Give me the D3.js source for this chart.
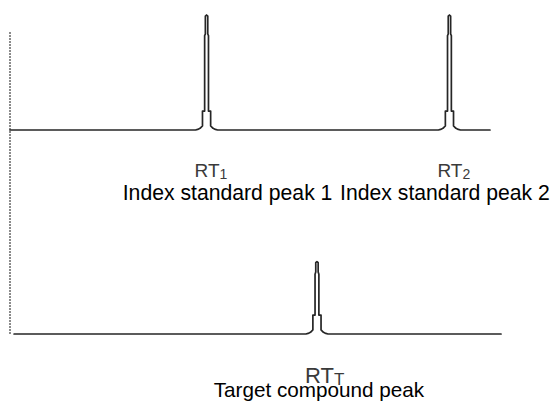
<!DOCTYPE html>
<html>
<head>
<meta charset="utf-8">
<script src="https://cdn.jsdelivr.net/npm/d3@7"></script>
<style>
  html, body { margin: 0; padding: 0; background: #fff; }
  svg { display: block; }
  text { font-family: "Liberation Sans", Arial, sans-serif; }
</style>
</head>
<body>
<svg id="chart" width="550" height="401"></svg>
<script>
// Retention time (min) and detector response (% of tallest peak) for each run.
// Run 1: two index standards.
const run1Time = [0,
  7.73, 7.82, 7.92, 8.02, 8.02, 8.11, 8.11, 8.14, 8.14, 8.19, 8.24, 8.24, 8.27, 8.27, 8.36, 8.36, 8.46, 8.56, 8.65,
  17.85, 17.94, 18.04, 18.14, 18.14, 18.23, 18.23, 18.26, 18.26, 18.31, 18.36, 18.36, 18.39, 18.39, 18.48, 18.48, 18.58, 18.68, 18.77,
  20];
const run1Signal = [0,
  0, 0.5, 1.5, 3.5, 16.5, 16.5, 82, 83.5, 99, 100, 99, 83.5, 82, 16.5, 16.5, 3.5, 1.5, 0.5, 0,
  0, 0.5, 1.5, 3.5, 16.5, 16.5, 82, 83.5, 99, 100, 99, 83.5, 82, 16.5, 16.5, 3.5, 1.5, 0.5, 0,
  0];
// Run 2: target compound.
const run2Time = [0.17,
  12.33, 12.42, 12.52, 12.62, 12.62, 12.71, 12.71, 12.74, 12.74, 12.79, 12.84, 12.84, 12.87, 12.87, 12.96, 12.96, 13.06, 13.16, 13.25,
  20.46];
const run2Signal = [0,
  0, 0.5, 1.5, 3.5, 16.5, 16.5, 52, 54, 62, 63, 62, 54, 52, 16.5, 16.5, 3.5, 1.5, 0.5, 0,
  0];

// Peak annotations
const peakTimes = [8.19, 18.31, 12.79];
const peakRun = [1, 1, 2];
const rtSubscripts = ["1", "2", "T"];
const peakNames = ["Index standard peak 1", "Index standard peak 2", "Target compound peak"];

// Dotted injection marker: time and top (response units of run 1)
const markerTime = 0;
const markerTop = 85;

const svg = d3.select("#chart");

const x = d3.scaleLinear().domain([0, 20]).range([10, 490]);
const y1 = d3.scaleLinear().domain([0, 100]).range([130, 15]);
const y2 = d3.scaleLinear().domain([0, 100]).range([334, 219]);

// Dotted marker at injection time, spanning both runs
svg.append("line")
  .attr("x1", x(markerTime)).attr("x2", x(markerTime))
  .attr("y1", y1(markerTop)).attr("y2", y2(0))
  .attr("stroke", "#333")
  .attr("stroke-width", 1.5)
  .attr("stroke-dasharray", "1.5,1.5");

function trace(times, signal, yScale) {
  const pts = times.map((t, i) => [t, signal[i]]);
  return d3.line().x(d => x(d[0])).y(d => yScale(d[1]))(pts);
}

[[run1Time, run1Signal, y1], [run2Time, run2Signal, y2]].forEach(([t, s, ys]) => {
  svg.append("path")
    .attr("d", trace(t, s, ys))
    .attr("fill", "none")
    .attr("stroke", "#262626")
    .attr("stroke-width", 1.7)
    .attr("stroke-linejoin", "round")
    .attr("stroke-linecap", "round");
});

// RT labels and peak names beneath each run
const labelRows = { 1: { rt: 177, name: 200 }, 2: { rt: 383, name: 397 } };
const nameShift = [21, -4.5, 2];

peakTimes.forEach((t, i) => {
  const row = labelRows[peakRun[i]];
  const big = peakRun[i] === 2;
  const rt = svg.append("text")
    .attr("x", x(t) - 12)
    .attr("y", row.rt)
    .attr("fill", "#3a3a3a")
    .attr("font-size", big ? 22 : 19);
  rt.append("tspan").text("RT");
  rt.append("tspan")
    .attr("dy", 2)
    .attr("font-size", big ? 17 : 14)
    .text(rtSubscripts[i]);

  svg.append("text")
    .attr("x", x(t) + nameShift[i])
    .attr("y", row.name)
    .attr("text-anchor", "middle")
    .attr("fill", "#000")
    .attr("font-size", big ? 20.7 : 21.2)
    .text(peakNames[i]);
});
</script>
</body>
</html>
